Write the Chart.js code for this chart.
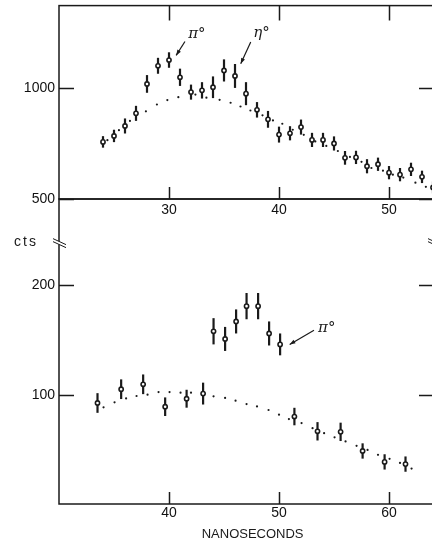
<!DOCTYPE html>
<html>
<head>
<meta charset="utf-8">
<script src="https://cdn.jsdelivr.net/npm/chart.js@4.4.0/dist/chart.umd.min.js"></script>
<style>
html, body { margin: 0; padding: 0; background: #fff; width: 432px; height: 541px; overflow: hidden; }
canvas { position: absolute; left: 0; top: 0; }
</style>
</head>
<body>
<canvas id="topChart" width="460" height="541"></canvas>
<canvas id="lowChart" width="460" height="541"></canvas>
<script>
// upper panel: measured counts with errors, and the dotted background curve
const topTime = [24, 25, 26, 27, 28, 29, 30, 31, 32, 33, 34, 35, 36, 37, 38, 39, 40, 41, 42, 43, 44, 45, 46, 47, 48, 49, 50, 51, 52, 53, 54];
const topCounts = [758, 785, 830, 887, 1020, 1102, 1128, 1050, 983, 991, 1005, 1081, 1056, 976, 903, 860, 791, 797, 825, 767, 767, 751, 686, 688, 648, 657, 619, 610, 634, 600, 552];
const topErr = [26, 28, 34, 34, 40, 36, 35, 39, 34, 37, 49, 50, 54, 52, 35, 38, 36, 32, 34, 32, 32, 32, 31, 30, 32, 30, 30, 30, 30, 28, 27];
const topCurveTime = [24.4, 25.45, 26.45, 27.9, 28.9, 29.85, 30.85, 32.4, 33.4, 34.6, 35.6, 36.5, 37.4, 38.5, 39.45, 40.3, 41.25, 42.25, 43.3, 44.3, 45.35, 46.45, 47.5, 48.4, 49.45, 50.35, 51.3, 52.4, 53.35];
const topCurveCounts = [766, 811, 853, 896, 927, 947, 960, 972, 958, 948, 935, 918, 900, 878, 855, 840, 813, 790, 760, 740, 717, 690, 668, 640, 628, 610, 597, 574, 555];
const topXTicks = [30, 40, 50];
const topYTicks = [500, 1000];

// lower panel
const lowTime = [33.5, 35.65, 37.65, 39.65, 41.6, 43.1, 44.05, 45.1, 46.1, 47.05, 48.1, 49.1, 50.1, 51.4, 53.5, 55.6, 57.6, 59.6, 61.5];
const lowCounts = [92.4, 105, 109.5, 89, 96.3, 101, 158, 151, 167, 181, 181, 156, 146, 80, 66.5, 66, 48.5, 38.5, 36.5];
const lowErr = [9, 9, 9, 8.5, 8.2, 10, 12, 11, 11, 12, 12, 11, 10, 8, 8.4, 8.4, 7, 7, 7];
const lowCurveTime = [34.05, 35.05, 36.1, 37.05, 38.05, 39.05, 40.05, 41.05, 42, 44.05, 45.1, 46.05, 47.05, 48, 49.05, 50, 50.9, 52.05, 53.05, 54.1, 55.05, 56.05, 57.05, 58.05, 59, 60.05, 61, 62.05];
const lowCurveCounts = [88.4, 93, 96.6, 98.8, 100, 102.4, 102.4, 101.8, 101.8, 98.5, 97, 94.5, 91.4, 89.3, 86, 81.7, 77.7, 74, 69.4, 64.8, 61, 57.2, 53.2, 49.5, 45, 41.3, 37.6, 32.4];
const lowXTicks = [40, 50, 60];
const lowYTicks = [100, 200];

const INK = '#1a1a1a';
const FONT = "'Liberation Sans', Arial, sans-serif";

// error bars, inner tick marks, frame, arrows and labels
const panelPlugin = {
  id: 'panel',
  beforeDatasetsDraw(chart) {
    const { ctx, scales: { x, y } } = chart;
    ctx.save();
    ctx.strokeStyle = INK;
    ctx.lineWidth = 2.2;
    chart.data.datasets.forEach(ds => {
      if (!ds.errorBars) return;
      ds.data.forEach((p, j) => {
        const px = x.getPixelForValue(p.x);
        ctx.beginPath();
        ctx.moveTo(px, y.getPixelForValue(p.y - ds.errorBars[j]));
        ctx.lineTo(px, y.getPixelForValue(p.y + ds.errorBars[j]));
        ctx.stroke();
      });
    });
    ctx.restore();
  },
  afterDraw(chart, args, opts) {
    const { ctx, chartArea: a, scales: { x, y } } = chart;
    ctx.save();
    ctx.strokeStyle = INK;
    ctx.fillStyle = INK;
    ctx.lineWidth = 1.5;
    ctx.strokeRect(a.left, a.top, a.right - a.left, a.bottom - a.top);

    ctx.beginPath();
    opts.xTicks.forEach(v => {
      const px = Math.round(x.getPixelForValue(v)) + 0.5;
      ctx.moveTo(px, a.bottom);
      ctx.lineTo(px, a.bottom - 12);
      if (opts.topTicks) {
        ctx.moveTo(px, a.top);
        ctx.lineTo(px, a.top + 15);
      }
    });
    opts.yTicks.forEach(v => {
      const py = Math.round(y.getPixelForValue(v)) + 0.5;
      ctx.moveTo(a.left, py);
      ctx.lineTo(a.left + 15, py);
      ctx.moveTo(a.right, py);
      ctx.lineTo(a.right - 15, py);
    });
    ctx.stroke();

    (opts.notes || []).forEach(n => {
      const x1 = x.getPixelForValue(n.fromX), y1 = y.getPixelForValue(n.fromY);
      const x2 = x.getPixelForValue(n.toX), y2 = y.getPixelForValue(n.toY);
      ctx.lineWidth = 1.2;
      ctx.beginPath();
      ctx.moveTo(x1, y1);
      ctx.lineTo(x2, y2);
      ctx.stroke();
      const ang = Math.atan2(y2 - y1, x2 - x1);
      ctx.beginPath();
      ctx.moveTo(x2, y2);
      ctx.lineTo(x2 - 6 * Math.cos(ang - 0.35), y2 - 6 * Math.sin(ang - 0.35));
      ctx.lineTo(x2 - 6 * Math.cos(ang + 0.35), y2 - 6 * Math.sin(ang + 0.35));
      ctx.closePath();
      ctx.fill();
      ctx.font = "italic 15px 'DejaVu Serif', serif";
      ctx.textBaseline = 'alphabetic';
      ctx.textAlign = 'left';
      ctx.fillText(n.text, x.getPixelForValue(n.textX), y.getPixelForValue(n.textY));
    });

    if (opts.breakAt !== undefined) {
      const py = y.getPixelForValue(opts.breakAt);
      [a.left, a.right].forEach(ax => {
        ctx.fillStyle = '#fff';
        ctx.beginPath();
        ctx.moveTo(ax - 6, py - 3);
        ctx.lineTo(ax + 7, py + 3);
        ctx.lineTo(ax + 7, py + 6);
        ctx.lineTo(ax - 6, py);
        ctx.closePath();
        ctx.fill();
        ctx.lineWidth = 1;
        ctx.beginPath();
        ctx.moveTo(ax - 6, py - 3);
        ctx.lineTo(ax + 7, py + 3);
        ctx.moveTo(ax - 6, py);
        ctx.lineTo(ax + 7, py + 6);
        ctx.stroke();
      });
      ctx.fillStyle = INK;
      ctx.font = '14px ' + FONT;
      ctx.textAlign = 'left';
      ctx.textBaseline = 'middle';
      if ('letterSpacing' in ctx) ctx.letterSpacing = '2px';
      ctx.fillText('cts', 14, py + 1);
      if ('letterSpacing' in ctx) ctx.letterSpacing = '0px';
    }

    if (opts.title) {
      ctx.fillStyle = INK;
      ctx.font = '13px ' + FONT;
      ctx.textAlign = 'center';
      ctx.textBaseline = 'middle';
      ctx.fillText(opts.title, x.getPixelForValue(opts.titleAt), 534);
    }
    ctx.restore();
  }
};

function pairs(xs, ys) {
  return xs.map((t, i) => ({ x: t, y: ys[i] }));
}

function noEdgePadding(s) {
  s.paddingTop = 0;
  s.paddingBottom = 0;
  s.paddingLeft = 0;
  s.paddingRight = 0;
}

function panelChart(id, p) {
  return new Chart(document.getElementById(id), {
    type: 'scatter',
    data: {
      datasets: [
        {
          data: pairs(p.curveX, p.curveY),
          pointRadius: 1.1,
          pointBorderWidth: 0,
          pointBackgroundColor: INK,
          showLine: false
        },
        {
          data: pairs(p.xs, p.ys),
          errorBars: p.err,
          pointRadius: 2.1,
          pointBorderWidth: 1.6,
          pointBorderColor: INK,
          pointBackgroundColor: '#fff',
          showLine: false
        }
      ]
    },
    options: {
      responsive: false,
      animation: false,
      events: [],
      layout: { padding: p.padding },
      plugins: {
        legend: { display: false },
        tooltip: { enabled: false },
        panel: p.panel
      },
      scales: {
        x: {
          type: 'linear',
          min: p.xMin,
          max: p.xMax,
          afterBuildTicks: s => { s.ticks = p.xTicks.map(v => ({ value: v })); },
          afterFit: s => { s.height = p.xHeight; noEdgePadding(s); },
          grid: { display: false, drawTicks: false },
          border: { display: false },
          ticks: {
            autoSkip: false, maxRotation: 0, padding: p.xPad, color: '#111',
            font: { family: FONT, size: 14 },
            callback: v => String(v)
          }
        },
        y: {
          type: 'linear',
          min: p.yMin,
          max: p.yMax,
          afterBuildTicks: s => { s.ticks = p.yTicks.map(v => ({ value: v })); },
          afterFit: s => { s.width = 59; noEdgePadding(s); },
          grid: { display: false, drawTicks: false },
          border: { display: false },
          ticks: {
            autoSkip: false, padding: 4, color: '#111',
            font: { family: FONT, size: 14 },
            callback: v => String(v)
          }
        }
      }
    },
    plugins: [panelPlugin]
  });
}

panelChart('topChart', {
  xs: topTime, ys: topCounts, err: topErr,
  curveX: topCurveTime, curveY: topCurveCounts,
  xTicks: topXTicks, yTicks: topYTicks,
  xMin: 20, xMax: 54.09, yMin: 500, yMax: 1374,
  padding: { left: 0, top: 5, right: 26, bottom: 311 },
  xHeight: 31, xPad: 3,
  panel: {
    xTicks: topXTicks, yTicks: topYTicks, topTicks: true,
    notes: [
      { text: 'π°', textX: 31.75, textY: 1226, fromX: 31.45, fromY: 1212, toX: 30.65, toY: 1149 },
      { text: 'η°', textX: 37.65, textY: 1232, fromX: 37.43, fromY: 1209, toX: 36.52, toY: 1111 }
    ]
  }
});

panelChart('lowChart', {
  xs: lowTime, ys: lowCounts, err: lowErr,
  curveX: lowCurveTime, curveY: lowCurveCounts,
  xTicks: lowXTicks, yTicks: lowYTicks,
  xMin: 30, xMax: 64.09, yMin: 0, yMax: 279,
  padding: { left: 0, top: 199, right: 26, bottom: 0 },
  xHeight: 37, xPad: 1,
  panel: {
    xTicks: lowXTicks, yTicks: lowYTicks, topTicks: false,
    breakAt: 240,
    title: 'NANOSECONDS', titleAt: 47.6,
    notes: [
      { text: 'π°', textX: 53.55, textY: 157, fromX: 53.18, fromY: 159, toX: 50.97, toY: 146 }
    ]
  }
});
</script>
</body>
</html>
